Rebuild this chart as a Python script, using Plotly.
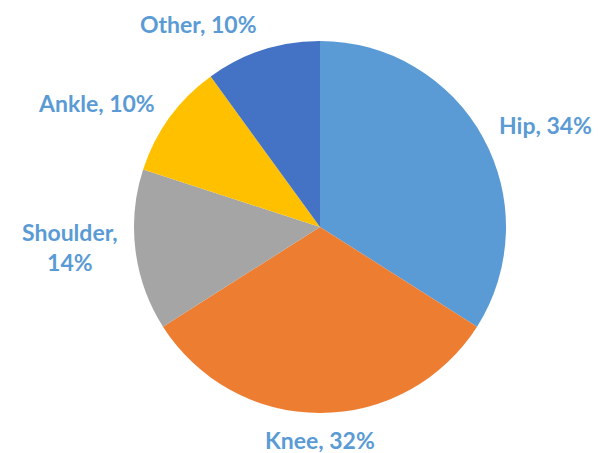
import math
import plotly.graph_objects as go

labels = ["Hip", "Knee", "Shoulder", "Ankle", "Other"]
values = [34, 32, 14, 10, 10]
colors = ["#5B9BD5", "#ED7D31", "#A5A5A5", "#FFC000", "#4472C4"]
label_text = ["Hip, 34%", "Knee, 32%", "Shoulder,<br>14%", "Ankle, 10%", "Other, 10%"]

W, H = 599, 453
cx, cy, R = 320, 227, 186

fig = go.Figure(go.Pie(
    labels=labels, values=values, sort=False, direction="clockwise", rotation=0,
    marker=dict(colors=colors, line=dict(width=0)),
    textinfo="none", hoverinfo="label+percent", showlegend=False,
    domain=dict(x=[(cx - R) / W, (cx + R) / W], y=[(H - cy - R) / H, (H - cy + R) / H]),
))

total = sum(values)
cum = 0
anns = []
for lab, v in zip(label_text, values):
    mid = (cum + v / 2) / total * 2 * math.pi
    cum += v
    s, c = math.sin(mid), math.cos(mid)
    xa = "center" if abs(s) < 0.2 else ("left" if s > 0 else "right")
    ya = "bottom" if c > 0.8 else ("top" if c < -0.8 else "middle")
    rr = R + (11 if ya != "middle" else 16)
    px = cx + rr * s
    py = cy - rr * c
    if ya == "middle":
        py -= 5
    anns.append(dict(x=px / W, y=1 - py / H, xref="paper", yref="paper", text=lab,
                     showarrow=False, xanchor=xa, yanchor=ya, align="center",
                     font=dict(family="Lato", size=23, color="#5B9BD5", weight="bold")))

fig.update_layout(width=W, height=H, margin=dict(l=0, r=0, t=0, b=0),
                  paper_bgcolor="white", plot_bgcolor="white", annotations=anns)
fig.write_html("out.html", post_script="document.body.style.margin='0';",
               config={"displayModeBar": False})
